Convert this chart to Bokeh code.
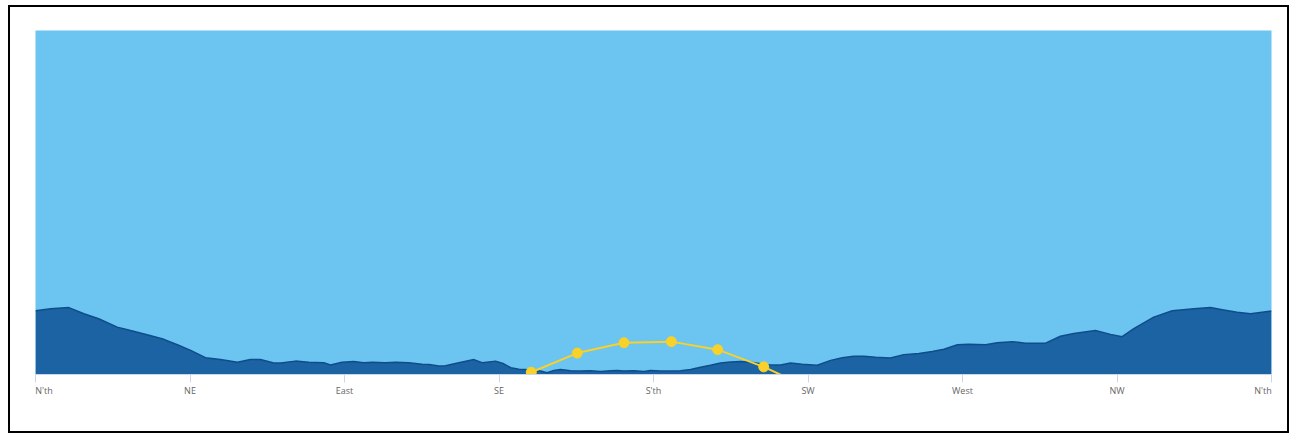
from bokeh.plotting import figure
from bokeh.models import Range1d, FixedTicker
from bokeh.embed import file_html
from bokeh.resources import INLINE

# Horizon profile: azimuth (deg) and elevation (deg)
horizon_az = [0.0, 4.4, 9.7, 14.1, 18.4, 23.8, 27.7, 32.5, 37.4, 41.3, 45.2, 49.5, 53.9,
              58.8, 62.6, 65.5, 69.4, 71.4, 75.7, 79.6, 84.0, 85.9, 89.3, 92.7, 95.6,
              98.1, 101.9, 104.9, 108.7, 112.6, 114.6, 117.5, 119.4, 123.3, 127.7, 130.1,
              134.0, 136.4, 138.4, 140.8, 142.7, 144.2, 147.1, 149.0, 151.0, 152.9, 155.8,
              158.7, 161.7, 164.6, 167.5, 169.4, 171.4, 174.3, 177.2, 179.1, 182.0, 185.0,
              187.9, 190.8, 193.7, 196.6, 199.5, 202.4, 205.3, 208.3, 211.2, 214.1, 217.0,
              219.9, 223.3, 227.7, 231.6, 235.0, 238.3, 241.3, 244.7, 249.0, 252.9, 257.3,
              261.2, 264.6, 268.5, 271.8, 276.7, 280.1, 284.5, 288.4, 294.2, 298.5, 302.4,
              308.7, 313.1, 316.5, 319.9, 325.7, 331.1, 337.4, 342.2, 346.1, 350.0, 353.9, 360.0]
horizon_el = [16.7, 17.2, 17.5, 15.9, 14.6, 12.4, 11.5, 10.4, 9.2, 7.8, 6.3, 4.4, 3.9,
              3.2, 3.9, 3.9, 3.0, 3.0, 3.5, 3.2, 3.1, 2.5, 3.2, 3.4, 3.1,
              3.2, 3.1, 3.2, 3.1, 2.7, 2.6, 2.2, 2.3, 3.1, 3.9, 3.1,
              3.5, 2.8, 1.8, 1.4, 1.3, 1.05, 0.9, 0.45, 1.05, 1.3, 1.0,
              0.9, 1.0, 0.8, 1.0, 1.05, 0.9, 1.0, 0.8, 1.05, 0.9, 0.9,
              1.0, 1.3, 1.9, 2.4, 3.0, 3.3, 3.4, 3.2, 2.8, 2.5, 2.5,
              3.0, 2.7, 2.4, 3.7, 4.4, 4.8, 4.8, 4.5, 4.3, 5.2, 5.5,
              6.0, 6.6, 7.8, 7.9, 7.8, 8.3, 8.6, 8.2, 8.2, 10.0, 10.7,
              11.5, 10.5, 9.9, 12.0, 15.0, 16.7, 17.2, 17.5, 16.9, 16.3, 15.9, 16.6]

# Sun path (hourly positions)
sun_az = [144.4, 157.8, 171.4, 185.2, 198.7, 212.1, 225.6]
sun_el = [0.6, 5.6, 8.3, 8.6, 6.5, 2.0, -3.6]

tick_pos = [0, 45, 90, 135, 180, 225, 270, 315, 360]
tick_labels = ["N'th", "NE", "East", "SE", "S'th", "SW", "West", "NW", "N'th"]

SKY = "#6cc4f1"
GROUND = "#1b63a3"
EDGE = "#0f4d8a"
SUN = "#f8d12a"
AXIS = "#ccd6eb"
LABEL = "#666666"
FONT = "Open Sans"
FSIZE = "9px"
EDGE_SHIFT = 2.5  # edge labels are justified inside the plot (half a label width, in degrees)

p = figure(width=1281, height=428, output_backend="svg", toolbar_location=None,
           x_range=Range1d(0, 360), y_range=Range1d(0, 90),
           min_border_left=25, min_border_right=20, min_border_top=23, min_border_bottom=61,
           y_axis_location=None, background_fill_color=SKY, border_fill_color="white",
           outline_line_color=None,
           styles={"border": "2px solid black", "margin-left": "8px", "margin-top": "5px"})
p.grid.visible = False

p.varea(x=horizon_az, y1=0, y2=horizon_el, fill_color=GROUND)
p.line(horizon_az, horizon_el, line_color=EDGE, line_width=1.5)

p.line(sun_az, sun_el, line_color=SUN, line_width=2)
p.scatter(sun_az, sun_el, size=10, fill_color=SUN, line_color=SUN)

# labels sit on (invisible) major ticks; the visible tick marks are the minor ticks
label_pos = [tick_pos[0] + EDGE_SHIFT] + tick_pos[1:-1] + [tick_pos[-1] - EDGE_SHIFT]
ax = p.xaxis[0]
ax.ticker = FixedTicker(ticks=label_pos, minor_ticks=tick_pos)
ax.major_label_overrides = {t: lab for t, lab in zip(label_pos, tick_labels)}
ax.axis_line_color = AXIS
ax.major_tick_line_color = None
ax.major_tick_out = 5
ax.major_tick_in = 0
ax.minor_tick_line_color = AXIS
ax.minor_tick_out = 8
ax.minor_tick_in = 0
ax.major_label_standoff = 1
ax.major_label_text_color = LABEL
ax.major_label_text_font = FONT
ax.major_label_text_font_size = FSIZE

open("out.html", "w").write(file_html(p, INLINE))
